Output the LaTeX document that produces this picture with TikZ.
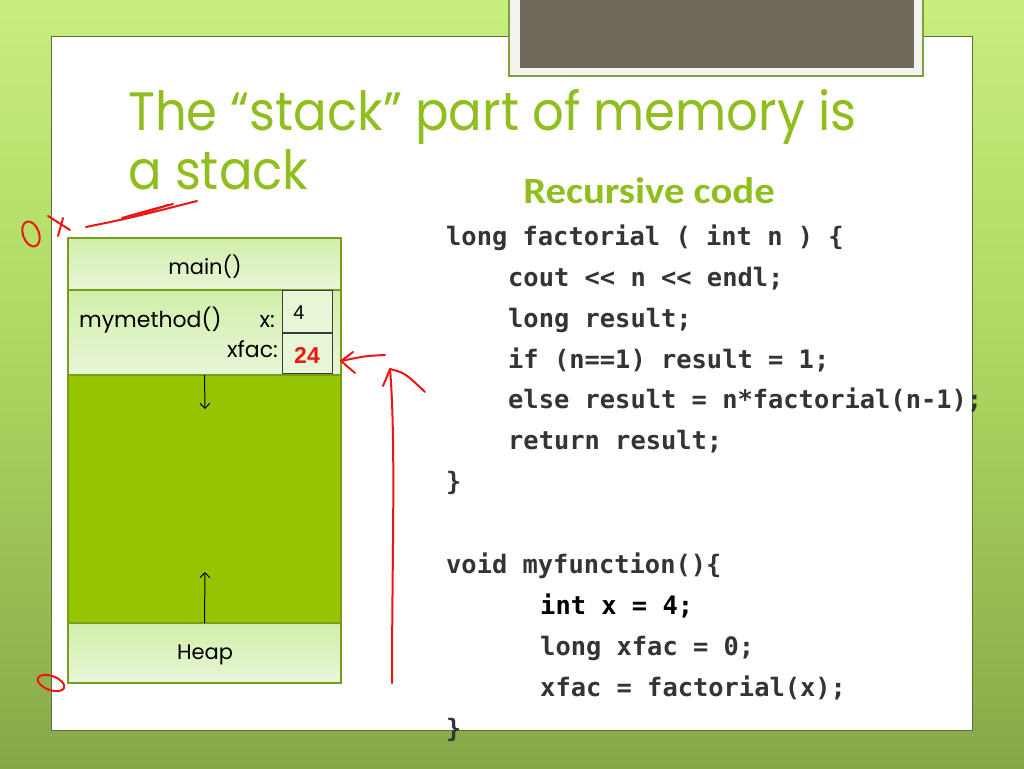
\documentclass[tikz,border=0pt]{standalone}
\usepackage{fontspec}
\setmainfont{Poppins}
\newfontfamily\titlefont{Poppins}[FakeStretch=0.92]
\newfontfamily\codefont{DejaVu Sans Mono}
\newfontfamily\carl{Carlito}[FakeStretch=1.1]
\newfontfamily\arialf{Liberation Sans}
\usetikzlibrary{arrows.meta}
\definecolor{bgtop}{RGB}{200,238,125}
\definecolor{bgmid}{RGB}{170,212,95}
\definecolor{bgbot}{RGB}{135,168,72}
\definecolor{panelborder}{RGB}{90,110,60}
\definecolor{titlegreen}{RGB}{143,190,30}
\definecolor{stackgreen}{RGB}{150,196,0}
\definecolor{lgtop}{RGB}{210,238,170}
\definecolor{lgbot}{RGB}{232,246,216}
\definecolor{boxline}{RGB}{118,158,28}
\definecolor{codegray}{RGB}{52,52,52}
\definecolor{penred}{RGB}{236,22,22}
\definecolor{framefill}{RGB}{242,243,236}
\definecolor{frameline}{RGB}{125,160,60}
\definecolor{photogray}{RGB}{111,104,91}
\definecolor{valline}{RGB}{60,60,60}
\tikzset{
  stackbox/.style={draw=boxline, line width=1.2pt, inner sep=0pt, outer sep=0pt,
    minimum width=273pt, top color=lgtop, bottom color=lgbot},
  valbox/.style={draw=valline, line width=1pt, fill=lgbot, inner sep=0pt, outer sep=0pt,
    minimum width=50pt},
  lbl/.style={inner sep=0pt, font=\fontsize{22}{26}\selectfont},
  codeline/.style={anchor=base west, inner sep=0pt, text=codegray,
    font=\codefont\bfseries\fontsize{25.4}{30}\selectfont},
  titletext/.style={anchor=base west, inner sep=0pt, text=titlegreen,
    font=\titlefont\fontsize{54}{60}\selectfont},
  pen/.style={draw=penred, line width=2pt, line cap=round, line join=round},
  growarrow/.style={line width=1pt, -{Straight Barb[length=5pt,width=10pt]}}
}
\begin{document}
\begin{tikzpicture}[x=1pt,y=-1pt]
\useasboundingbox (0,0) rectangle (1024,768);
% background
\shade[top color=bgtop, bottom color=bgbot, middle color=bgmid] (0,0) rectangle (1024,768);
% white panel
\draw[fill=white, draw=panelborder, line width=1pt] (51,37) rectangle (972,730);
% photo frame at top
\draw[fill=framefill, draw=frameline, line width=1.2pt] (509,-3) rectangle (923,76);
\fill[photogray] (520,-3) rectangle (914,68);
% title
\node[titletext] (t1) at (128,130) {The “stack” part of memory is};
\node[titletext] (t2) at (128,189) {a stack};
% code heading
\node[anchor=base, inner sep=0pt, text=titlegreen, font=\carl\bfseries\fontsize{37}{42}\selectfont] (rc) at (649,203) {Recursive code};
% code
\node[codeline] (c1) at (446,245) {long factorial ( int n ) \{};
\node[codeline] (c2) at (508,286) {cout << n << endl;};
\node[codeline] (c3) at (508,327) {long result;};
\node[codeline] (c4) at (508,368) {if (n==1) result = 1;};
\node[codeline] (c5) at (508,408) {else result = n*factorial(n-1);};
\node[codeline] (c6) at (508,449) {return result;};
\node[codeline] (c7) at (446,490) {\}};
\node[codeline] (c8) at (446,573) {void myfunction()\{};
\node[codeline, text=black] (c9) at (540,614) {int x = 4;};
\node[codeline] (c10) at (540,655) {long xfac = 0;};
\node[codeline] (c11) at (540,696) {xfac = factorial(x);};
\node[codeline] (c12) at (446,737) {\}};
% stack
\node[stackbox, minimum height=52pt] (main) at (204.5,264) {};
\node[stackbox, minimum height=85pt] (mym) at (204.5,332.5) {};
\node[draw=boxline, line width=1.2pt, fill=stackgreen, inner sep=0pt, outer sep=0pt, minimum width=273pt, minimum height=248pt] (free) at (204.5,499) {};
\node[stackbox, minimum height=60pt] (heap) at (204.5,653) {};
\node[lbl, font=\fontsize{21}{24}\selectfont] (lmain) at (205,267) {main()};
\node[lbl, font=\fontsize{21}{24}\selectfont] (lheap) at (205,655) {Heap};
\node[valbox, minimum height=42pt] (v4) at (307,311) {};
\node[valbox, minimum height=40pt] (v24) at (307,353) {};
\node[inner sep=0pt, font=\arialf\fontsize{20}{22}\selectfont] (n4) at (299,313) {4};
\node[inner sep=0pt, text=penred, font=\arialf\bfseries\fontsize{23}{26}\selectfont] (n24) at (307,355) {24};
\node[lbl, anchor=base west] (lm) at (79,327) {mymethod()};
\node[lbl, anchor=base east] (lx) at (275,327) {x:};
\node[lbl, anchor=base east] (lxf) at (278,357) {xfac:};
\coordinate (downtip) at (205,409);
\coordinate (uptip) at (205,572);
\draw[growarrow] (mym.south) -- (downtip);
\draw[growarrow] (heap.north) -- (uptip);
% red pen annotations
\draw[pen] (31,234) ellipse [x radius=8, y radius=13, rotate=20];
\draw[pen] (48,216) -- (70,230);
\draw[pen] (63,218) -- (58,236);
\draw[pen] (86,227) .. controls (130,218) .. (197,201);
\draw[pen] (122,218) .. controls (150,210) .. (173,204);
\draw[pen] (130,216) .. controls (150,211) .. (168,205);
\draw[pen] (51,683) ellipse [x radius=14, y radius=7, rotate=-20];
\coordinate (la) at (341,361);
\draw[pen] (385,355) .. controls (365,356) .. (la);
\draw[pen] (353,352) -- (la) -- (355,373);
\coordinate (va) at (390,369);
\draw[pen] (392,683) .. controls (392,560) and (396,440) .. (va);
\draw[pen] (383,386) -- (va) .. controls (405,373) .. (425,392);
\end{tikzpicture}
\end{document}
